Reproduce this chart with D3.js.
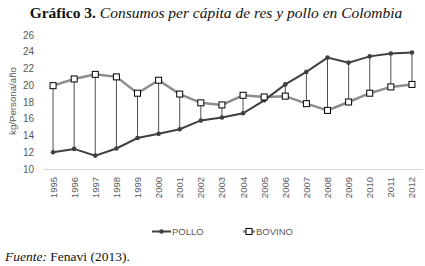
<!DOCTYPE html>
<html><head><meta charset="utf-8">
<script src="https://cdn.jsdelivr.net/npm/d3@7"></script>
<style>body{margin:0;background:#fff}svg{display:block}</style>
</head><body>
<script>
const years = ["1995","1996","1997","1998","1999","2000","2001","2002","2003","2004","2005","2006","2007","2008","2009","2010","2011","2012"];
const pollo = [12.0,12.4,11.6,12.45,13.7,14.2,14.75,15.8,16.15,16.65,18.2,20.1,21.6,23.3,22.7,23.45,23.8,23.9];
const bovino = [19.95,20.75,21.3,21.0,19.05,20.6,18.95,17.9,17.65,18.8,18.6,18.7,17.8,17.0,18.0,19.05,19.8,20.1];
const yTicks = [10,12,14,16,18,20,22,24,26];

const W=425,H=266;
const svg=d3.select("body").append("svg").attr("width",W).attr("height",H);
const x=d3.scaleBand().domain(years).range([42.5,422.5]);
const y=d3.scaleLinear().domain([10,26]).range([169,35]);
const cx=d=>x(d)+x.bandwidth()/2;

// title
const t=svg.append("text").attr("x",216).attr("y",18).attr("text-anchor","middle")
  .style("font-family","'Liberation Serif','Times New Roman',serif").style("font-size","15.5px").attr("fill","#111");
t.append("tspan").attr("font-weight","bold").text("Gráfico 3. ");
t.append("tspan").attr("font-style","italic").text("Consumos per cápita de res y pollo en Colombia");

// axis line
svg.append("line").attr("x1",42.5).attr("x2",422.5).attr("y1",y(10)+0.5).attr("y2",y(10)+0.5).attr("stroke","#d9d9d9");

// y labels
svg.append("g").selectAll("text").data(yTicks).join("text")
  .attr("x",34).attr("y",d=>y(d)).attr("dy","0.35em").attr("text-anchor","end")
  .style("font-family","'Liberation Sans',Arial,sans-serif").style("font-size","10px").attr("fill","#595959").text(d=>d);
svg.append("text").attr("transform","translate(16,101) rotate(-90)").attr("text-anchor","middle")
  .style("font-family","'Liberation Sans',Arial,sans-serif").style("font-size","9.7px").attr("fill","#595959").text("kg/Persona/año");

// x labels
svg.append("g").selectAll("text").data(years).join("text")
  .attr("transform",d=>`translate(${cx(d)+3.5},177) rotate(-90)`).attr("text-anchor","end")
  .style("font-family","'Liberation Sans',Arial,sans-serif").style("font-size","9.5px").attr("fill","#595959").text(d=>d);

// high-low lines
svg.append("g").selectAll("line").data(years).join("line")
  .attr("x1",d=>cx(d)).attr("x2",d=>cx(d))
  .attr("y1",(d,i)=>y(pollo[i])).attr("y2",(d,i)=>y(bovino[i]))
  .attr("stroke","#505050").attr("stroke-width",1);

const line=d3.line().x((d,i)=>cx(years[i])).y(d=>y(d));
svg.append("path").datum(bovino).attr("d",line).attr("fill","none").attr("stroke","#8c8c8c").attr("stroke-width",2.5);
svg.append("path").datum(pollo).attr("d",line).attr("fill","none").attr("stroke","#404040").attr("stroke-width",2);

svg.append("g").selectAll("circle").data(pollo).join("circle")
  .attr("cx",(d,i)=>cx(years[i])).attr("cy",d=>y(d)).attr("r",2.3).attr("fill","#404040");
svg.append("g").selectAll("rect").data(bovino).join("rect")
  .attr("x",(d,i)=>cx(years[i])-3).attr("y",d=>y(d)-3).attr("width",6).attr("height",6)
  .attr("fill","#fff").attr("stroke","#000").attr("stroke-width",1);

// legend
const lg=svg.append("g");
lg.append("line").attr("x1",152).attr("x2",171).attr("y1",231.5).attr("y2",231.5).attr("stroke","#404040").attr("stroke-width",2);
lg.append("circle").attr("cx",161.5).attr("cy",231.5).attr("r",2.3).attr("fill","#404040");
lg.append("text").attr("x",172).attr("y",231.5).attr("dy","0.35em").style("font-family","'Liberation Sans',Arial,sans-serif").style("font-size","9.5px").attr("fill","#595959").text("POLLO");
lg.append("line").attr("x1",243).attr("x2",255).attr("y1",231.5).attr("y2",231.5).attr("stroke","#8c8c8c").attr("stroke-width",2.5);
lg.append("rect").attr("x",246).attr("y",228.5).attr("width",6).attr("height",6).attr("fill","#fff").attr("stroke","#000");
lg.append("text").attr("x",256).attr("y",231.5).attr("dy","0.35em").style("font-family","'Liberation Sans',Arial,sans-serif").style("font-size","9.5px").attr("fill","#595959").text("BOVINO");

// source
const s=svg.append("text").attr("x",5).attr("y",261).style("font-family","'Liberation Serif','Times New Roman',serif").style("font-size","13.5px").attr("fill","#111");
s.append("tspan").attr("font-style","italic").text("Fuente:");
s.append("tspan").text(" Fenavi (2013).");
</script>
</body></html>
